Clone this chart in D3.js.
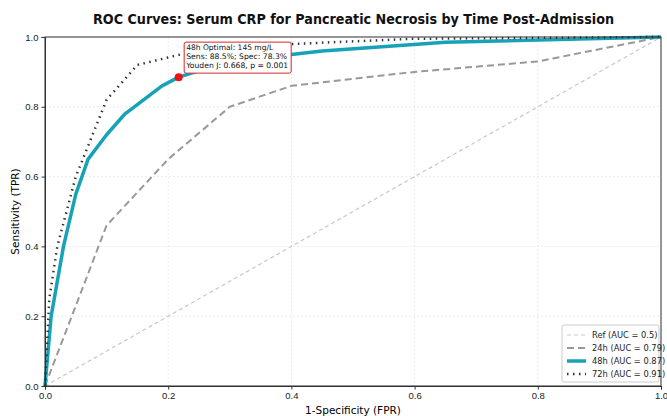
<!DOCTYPE html>
<html>
<head>
<meta charset="utf-8">
<script src="https://cdn.jsdelivr.net/npm/d3@7"></script>
<style>
  body { margin: 0; background: #fff; }
  svg { font-family: "DejaVu Sans", sans-serif; }
  .axis path, .axis line { stroke: #333; }
  .axis text { font-size: 9.5px; fill: #222; }
</style>
</head>
<body>
<div id="chart"></div>
<script>
// ROC curve points (false positive rate / true positive rate)
var refFpr = [0, 1];
var refTpr = [0, 1];

var fpr24 = [0, 0.10, 0.20, 0.30, 0.40, 0.60, 0.80, 1.0];
var tpr24 = [0, 0.46, 0.65, 0.80, 0.86, 0.90, 0.93, 1.0];

var fpr48 = [0, 0.01, 0.03, 0.05, 0.07, 0.10, 0.13, 0.19, 0.217, 0.30, 0.40, 0.45, 0.65, 1.0];
var tpr48 = [0, 0.20, 0.40, 0.55, 0.65, 0.72, 0.78, 0.86, 0.885, 0.93, 0.95, 0.96, 0.985, 1.0];

var fpr72 = [0, 0.007, 0.02, 0.05, 0.10, 0.15, 0.22, 0.40, 0.60, 1.0];
var tpr72 = [0, 0.25, 0.40, 0.60, 0.82, 0.92, 0.95, 0.98, 0.995, 1.0];

var seriesNames = ["Ref (AUC = 0.5)", "24h (AUC = 0.79)", "48h (AUC = 0.87)", "72h (AUC = 0.91)"];
var ticks = [0, 0.2, 0.4, 0.6, 0.8, 1.0];

var optimalPoint = { fpr: 0.217, tpr: 0.885 };
var annotationLines = ["48h Optimal: 145 mg/L", "Sens: 88.5%; Spec: 78.3%", "Youden J: 0.668, p = 0.001"];

function drawChart(){
    var margin = { left:45, right:6, top:37, bottom:30 };
    var fullW = 667, fullH = 416;
    var width = fullW - margin.left - margin.right,
        height = fullH - margin.top - margin.bottom;

    var root = d3.select("#chart").append("svg")
        .attr("width", fullW)
        .attr("height", fullH);

    // Title (source image is a bit squeezed horizontally)
    root.append("text")
        .attr("x", 93)
        .attr("y", 23.5)
        .attr("font-size", "14px")
        .attr("font-weight", "bold")
        .attr("fill", "#111")
        .attr("textLength", 521)
        .attr("lengthAdjust", "spacingAndGlyphs")
        .text("ROC Curves: Serum CRP for Pancreatic Necrosis by Time Post-Admission");

    var svg = root.append("g")
        .attr("transform", "translate(" + margin.left + "," + margin.top + ")");

    var x = d3.scaleLinear().domain([0, 1]).range([0, width]);
    var y = d3.scaleLinear().domain([0, 1]).range([height, 0]);

    // grid
    svg.append("g").selectAll("line.gx").data(ticks).enter().append("line")
        .attr("x1", d => x(d)).attr("x2", d => x(d))
        .attr("y1", 0).attr("y2", height)
        .attr("stroke", "#e6e6e6").attr("stroke-width", 0.8)
        .attr("stroke-dasharray", "2,2");
    svg.append("g").selectAll("line.gy").data(ticks).enter().append("line")
        .attr("y1", d => y(d)).attr("y2", d => y(d))
        .attr("x1", 0).attr("x2", width)
        .attr("stroke", "#e6e6e6").attr("stroke-width", 0.8)
        .attr("stroke-dasharray", "2,2");

    var line = d3.line()
        .x(d => x(d[0]))
        .y(d => y(d[1]));

    function pts(f, t){ return f.map(function(v, i){ return [v, t[i]]; }); }

    var styles = [
        { data: pts(refFpr, refTpr), color: "#c8c8c8", w: 1.2, dash: "4,3" },
        { data: pts(fpr24, tpr24), color: "#999999", w: 2, dash: "7,4" },
        { data: pts(fpr48, tpr48), color: "#17a2b8", w: 3.5, dash: null },
        { data: pts(fpr72, tpr72), color: "#333333", w: 2.5, dash: "1.5,4.5" }
    ];

    styles.forEach(function(s){
        svg.append("path")
            .attr("d", line(s.data))
            .attr("fill", "none")
            .attr("stroke", s.color)
            .attr("stroke-width", s.w)
            .attr("stroke-linejoin", "round")
            .attr("stroke-dasharray", s.dash);
    });

    // axes
    svg.append("g")
        .attr("class", "x axis")
        .attr("transform", "translate(0," + height + ")")
        .call(d3.axisBottom(x).tickValues(ticks).tickFormat(d3.format(".1f")).tickSizeOuter(0).tickSize(3.5));
    svg.append("g")
        .attr("class", "y axis")
        .call(d3.axisLeft(y).tickValues(ticks).tickFormat(d3.format(".1f")).tickSizeOuter(0).tickSize(3.5));

    // frame
    svg.append("rect")
        .attr("width", width).attr("height", height)
        .attr("fill", "none").attr("stroke", "#333").attr("stroke-width", 1);

    // axis labels
    svg.append("text")
        .attr("x", width / 2)
        .attr("y", height + 28)
        .attr("text-anchor", "middle")
        .attr("font-size", "10.5px")
        .text("1-Specificity (FPR)");
    svg.append("text")
        .attr("transform", "rotate(-90)")
        .attr("x", -height / 2)
        .attr("y", -26)
        .attr("text-anchor", "middle")
        .attr("font-size", "10.5px")
        .text("Sensitivity (TPR)");

    // optimal point + annotation
    svg.append("circle")
        .attr("cx", x(optimalPoint.fpr))
        .attr("cy", y(optimalPoint.tpr))
        .attr("r", 4)
        .attr("fill", "#ee1111");

    var annWidths = [87, 101, 102];
    var ann = svg.append("g")
        .attr("transform", "translate(" + (x(optimalPoint.fpr) + 5.5) + "," + (y(optimalPoint.tpr) - 35) + ")");
    ann.append("rect")
        .attr("width", 107).attr("height", 31)
        .attr("rx", 2)
        .attr("fill", "#fff")
        .attr("stroke", "#d62728")
        .attr("stroke-width", 1);
    annotationLines.forEach(function(t, i){
        ann.append("text")
            .attr("x", 2)
            .attr("y", 8 + i * 8.8)
            .attr("font-size", "7.6px")
            .attr("fill", "#111")
            .attr("textLength", annWidths[i])
            .attr("lengthAdjust", "spacingAndGlyphs")
            .text(t);
    });

    // legend
    var legend = svg.append("g")
        .attr("transform", "translate(" + (width - 99) + "," + (height - 61) + ")");
    legend.append("rect")
        .attr("width", 97).attr("height", 57)
        .attr("rx", 2)
        .attr("fill", "#fff")
        .attr("stroke", "#ccc");
    seriesNames.forEach(function(name, i){
        var s = styles[i];
        var row = legend.append("g")
            .attr("transform", "translate(5," + (10 + i * 13) + ")");
        row.append("line")
            .attr("x1", 0).attr("x2", 19)
            .attr("stroke", s.color)
            .attr("stroke-width", s.w)
            .attr("stroke-dasharray", s.dash);
        row.append("text")
            .attr("x", 25)
            .attr("y", 3)
            .attr("font-size", "8.3px")
            .attr("fill", "#222")
            .text(name);
    });
}

drawChart();
</script>
</body>
</html>
